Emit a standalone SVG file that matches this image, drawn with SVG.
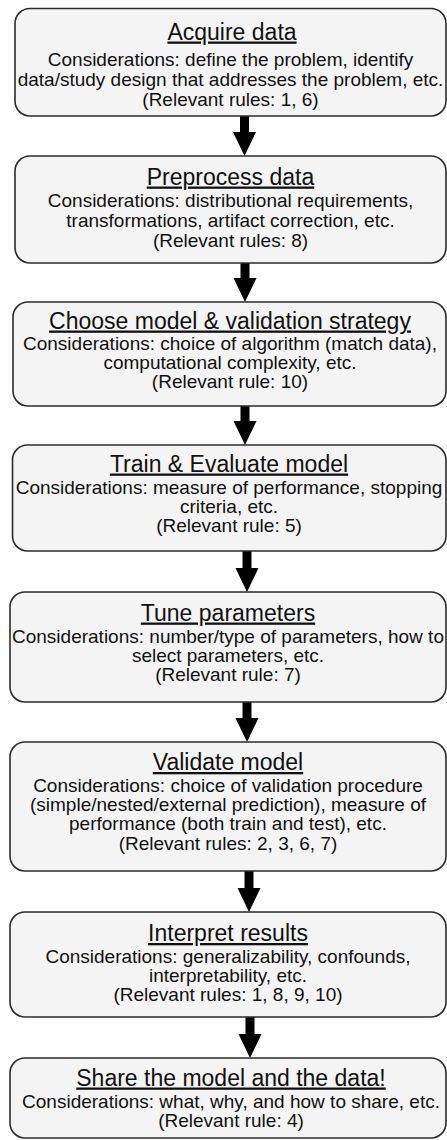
<svg xmlns="http://www.w3.org/2000/svg" width="447" height="1140" viewBox="0 0 447 1140">
<style>
.box{fill:#f4f4f4;stroke:#2b2b2b;stroke-width:1.6}
.t{font-family:"Liberation Sans",Arial,sans-serif;font-size:23px;fill:#111;text-anchor:middle;text-decoration:underline}
.b{font-family:"Liberation Sans",Arial,sans-serif;font-size:19px;fill:#111;text-anchor:middle}
.arr{fill:#000}
</style>
<rect width="447" height="1140" fill="#fff"/>
<g id="connectors">
<path class="arr" d="M240,116 H249 V132 H256 L244.5,156 L233,132 H240 Z"/>
<path class="arr" d="M240.5,263 H249.5 V278 H256.5 L245,302 L233.5,278 H240.5 Z"/>
<path class="arr" d="M240.5,406 H249.5 V421 H256.5 L245,445 L233.5,421 H240.5 Z"/>
<path class="arr" d="M242.5,551 H251.5 V568 H258.5 L247,592 L235.5,568 H242.5 Z"/>
<path class="arr" d="M242.5,702 H251.5 V718 H258.5 L247,742 L235.5,718 H242.5 Z"/>
<path class="arr" d="M244.5,871 H253.5 V888 H260.5 L249,912 L237.5,888 H244.5 Z"/>
<path class="arr" d="M245.5,1017 H254.5 V1034 H261.5 L250,1058 L238.5,1034 H245.5 Z"/>
</g>
<g id="acquire">
<rect class="box" x="15" y="8.5" width="431" height="107.5" rx="15"/>
<text class="t" x="232" y="39.5">Acquire data</text>
<text class="b" x="230.5" y="66">Considerations: define the problem, identify</text>
<text class="b" x="230.5" y="86">data/study design that addresses the problem, etc.</text>
<text class="b" x="230.5" y="105.5">(Relevant rules: 1, 6)</text>
</g>
<g id="preprocess">
<rect class="box" x="15" y="156" width="431" height="107" rx="15"/>
<text class="t" x="230.5" y="184.5">Preprocess data</text>
<text class="b" x="230.5" y="206.5">Considerations: distributional requirements,</text>
<text class="b" x="230.5" y="226.5">transformations, artifact correction, etc.</text>
<text class="b" x="230.5" y="246.5">(Relevant rules: 8)</text>
</g>
<g id="choose">
<rect class="box" x="13" y="302" width="433" height="104" rx="15"/>
<text class="t" x="230" y="328.5">Choose model &amp; validation strategy</text>
<text class="b" x="230" y="349.5">Considerations: choice of algorithm (match data),</text>
<text class="b" x="230" y="368.5">computational complexity, etc.</text>
<text class="b" x="230" y="387.5">(Relevant rule: 10)</text>
</g>
<g id="train">
<rect class="box" x="12.5" y="445" width="433.5" height="106" rx="15"/>
<text class="t" x="229" y="471.5">Train &amp; Evaluate model</text>
<text class="b" x="229" y="493.5">Considerations: measure of performance, stopping</text>
<text class="b" x="229" y="512.5">criteria, etc.</text>
<text class="b" x="229" y="531.5">(Relevant rule: 5)</text>
</g>
<g id="tune">
<rect class="box" x="10" y="592" width="436" height="110" rx="15"/>
<text class="t" x="228" y="620.5">Tune parameters</text>
<text class="b" x="228" y="643">Considerations: number/type of parameters, how to</text>
<text class="b" x="228" y="662">select parameters, etc.</text>
<text class="b" x="228" y="681">(Relevant rule: 7)</text>
</g>
<g id="validate">
<rect class="box" x="10" y="742" width="436" height="129" rx="15"/>
<text class="t" x="228" y="770">Validate model</text>
<text class="b" x="228" y="791.5">Considerations: choice of validation procedure</text>
<text class="b" x="228" y="811">(simple/nested/external prediction), measure of</text>
<text class="b" x="228" y="830">performance (both train and test), etc.</text>
<text class="b" x="228" y="849.5">(Relevant rules: 2, 3, 6, 7)</text>
</g>
<g id="interpret">
<rect class="box" x="10" y="912" width="436" height="105" rx="15"/>
<text class="t" x="228" y="941">Interpret results</text>
<text class="b" x="228" y="962.5">Considerations: generalizability, confounds,</text>
<text class="b" x="228" y="981.5">interpretability, etc.</text>
<text class="b" x="228" y="1000.5">(Relevant rules: 1, 8, 9, 10)</text>
</g>
<g id="share">
<rect class="box" x="10" y="1058" width="436" height="80" rx="15"/>
<text class="t" x="231" y="1085.5">Share the model and the data!</text>
<text class="b" x="231" y="1108">Considerations: what, why, and how to share, etc.</text>
<text class="b" x="231" y="1127">(Relevant rule: 4)</text>
</g>
</svg>
